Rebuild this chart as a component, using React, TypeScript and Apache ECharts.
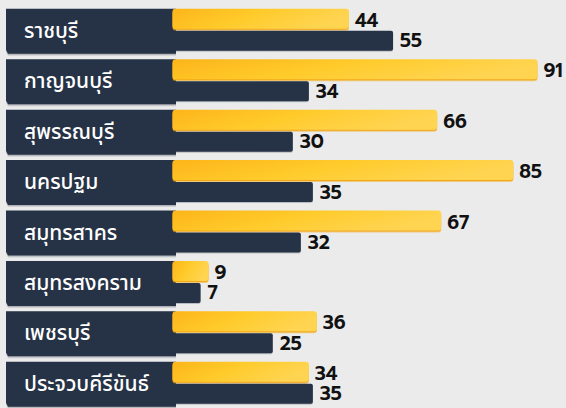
import React, { useEffect, useRef } from "react";
import * as echarts from "echarts";

const CATEGORIES = [
  "ราชบุรี",
  "กาญจนบุรี",
  "สุพรรณบุรี",
  "นครปฐม",
  "สมุทรสาคร",
  "สมุทรสงคราม",
  "เพชรบุรี",
  "ประจวบคีรีขันธ์",
];
const YELLOW_VALUES = [44, 91, 66, 85, 67, 9, 36, 34];
const DARK_VALUES = [55, 34, 30, 35, 32, 7, 25, 35];

const NAVY = "#253044";
const BG = "#ebebeb";
const LABEL_FONT = "'Noto Sans Thai'";
const VALUE_FONT = "Prompt";

export default function App() {
  const ref = useRef<HTMLDivElement>(null);
  useEffect(() => {
    if (!ref.current) return;
    const chart = echarts.init(ref.current, null, { renderer: "svg" });
    const option: any = {
      animation: false,
      backgroundColor: BG,
      grid: { left: 172.5, top: 4.64, width: 391, height: 405.7 },
      xAxis: { type: "value", min: 0, max: 97.5, show: false, splitLine: { show: false } },
      yAxis: { type: "category", data: CATEGORIES, inverse: true, show: false },
      series: [
        {
          type: "custom",
          z: 1,
          data: CATEGORIES.map((c, i) => [0, i]),
          encode: { x: 0, y: 1 },
          silent: true,
          renderItem: (params: any, api: any) => {
            const idx = api.value(1);
            const p = api.coord([0, idx]);
            const x0 = p[0];
            const yc = p[1];
            const top = yc - 21;
            const bottom = yc + 24;
            const left = 6;
            const right = x0 + 3.5;
            return {
              type: "group",
              children: [
                {
                  type: "polygon",
                  shape: {
                    points: [
                      [left, top],
                      [right, top],
                      [right, bottom],
                      [left + 2, bottom],
                      [left, bottom - 4],
                    ],
                  },
                  style: {
                    fill: NAVY,
                    shadowColor: "rgba(37,48,68,0.3)",
                    shadowOffsetY: 1.5,
                    shadowBlur: 0,
                  },
                },
                {
                  type: "text",
                  x: left + 18,
                  y: yc + 1.5,
                  style: {
                    text: CATEGORIES[idx],
                    fill: "#ffffff",
                    font: `500 21px ${LABEL_FONT}`,
                    verticalAlign: "middle",
                    align: "left",
                  },
                },
              ],
            };
          },
        },
        {
          type: "bar",
          z: 3,
          data: YELLOW_VALUES,
          barWidth: 20,
          barGap: "10%",
          itemStyle: {
            borderRadius: 3,
            color: new echarts.graphic.LinearGradient(0, 0, 1, 0.3, [
              { offset: 0, color: "#fdb51b" },
              { offset: 0.5, color: "#ffcb2b" },
              { offset: 1, color: "#ffd451" },
            ]),
            shadowColor: "#f3a815",
            shadowOffsetY: 1.5,
            shadowBlur: 0,
          },
          label: {
            show: true,
            position: "right",
            distance: 6,
            offset: [0, 1.5],
            color: "#111111",
            fontSize: 19,
            fontWeight: 600,
            fontFamily: VALUE_FONT,
          },
        },
        {
          type: "bar",
          z: 3,
          data: DARK_VALUES,
          barWidth: 20,
          barGap: "10%",
          itemStyle: {
            color: NAVY,
            borderRadius: [0, 2, 2, 0],
            shadowColor: "rgba(37,48,68,0.25)",
            shadowOffsetY: 1,
            shadowBlur: 0,
          },
          label: {
            show: true,
            position: "right",
            distance: 7,
            color: "#111111",
            fontSize: 19,
            fontWeight: 600,
            fontFamily: VALUE_FONT,
          },
        },
      ],
    };
    chart.setOption(option);
    return () => chart.dispose();
  }, []);
  return (
    <div
      ref={ref}
      style={{ position: "fixed", left: 0, top: 0, width: 566, height: 408, background: BG }}
    />
  );
}
